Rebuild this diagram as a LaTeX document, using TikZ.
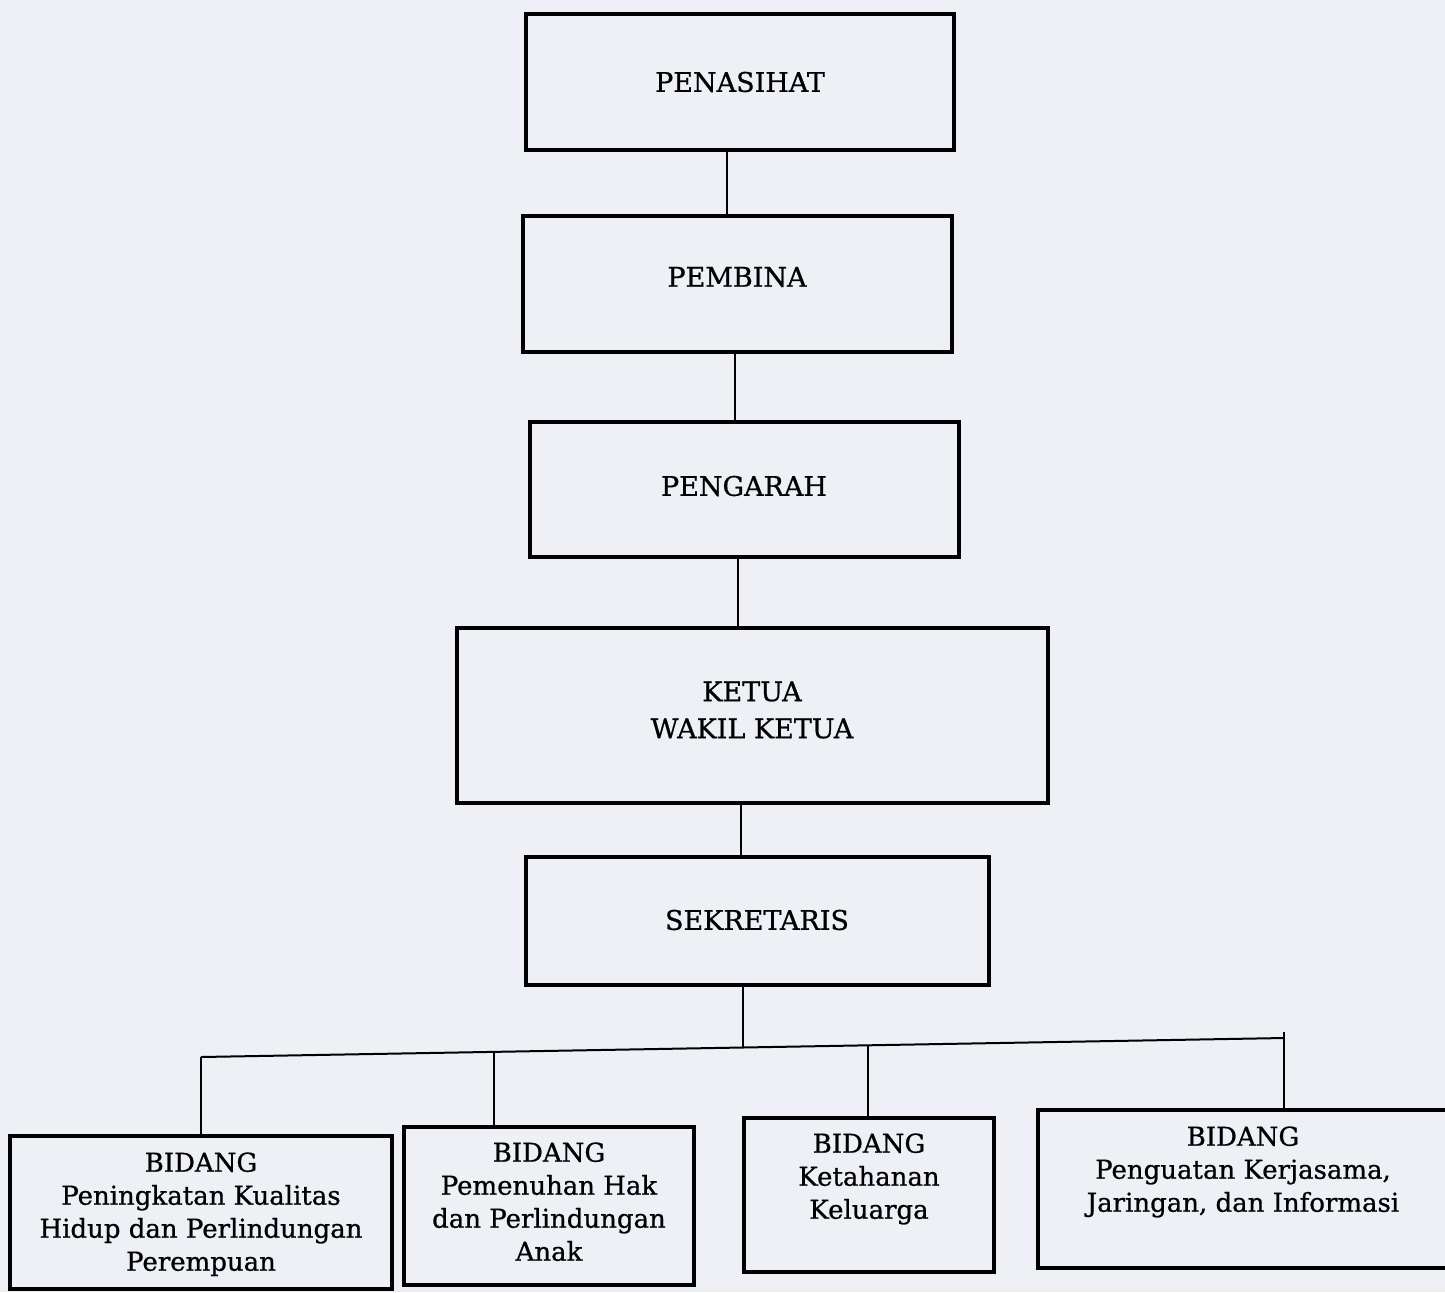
\documentclass[tikz,border=0pt]{standalone}
\usepackage{fontspec}
\setmainfont{DejaVu Serif}
\newfontfamily\boxfont{DejaVu Serif}[RawFeature={embolden=0.8}]
\definecolor{paper}{RGB}{238,240,246}
\begin{document}
\begin{tikzpicture}[x=0.5pt,y=-0.5pt,
  box/.style={draw=black,line width=2.3pt,inner sep=0pt,fill=none},
  txt/.style={inner sep=0pt,align=center,font=\boxfont\fontsize{13.5pt}{18.5pt}\selectfont},
  btxt/.style={inner sep=0pt,align=center,font=\boxfont\fontsize{13pt}{16.5pt}\selectfont},
  conn/.style={line width=1pt,black}]
\fill[paper] (0,0) rectangle (1445,1292);
\useasboundingbox (0,0) rectangle (1445,1292);
% boxes
\node[box,minimum width=214pt,minimum height=68pt] (pen) at (740,82) {};
\node[box,minimum width=214.5pt,minimum height=68pt] (pem) at (737.5,284) {};
\node[box,minimum width=214.5pt,minimum height=67.5pt] (peng) at (744.5,489.5) {};
\node[box,minimum width=295.5pt,minimum height=87.5pt] (ket) at (752.5,715.5) {};
\node[box,minimum width=231.5pt,minimum height=64pt] (sek) at (757.5,921) {};
\node[box,minimum width=191pt,minimum height=76.5pt] (b1) at (201,1212.5) {};
\node[box,minimum width=145pt,minimum height=79pt] (b2) at (549,1206) {};
\node[box,minimum width=125pt,minimum height=77pt] (b3) at (869,1195) {};
\node[box,minimum width=208.5pt,minimum height=79pt] (b4) at (1246.5,1189) {};
% texts
\node[txt] (tpen) at (740,82) {PENASIHAT};
\node[txt] (tpem) at (737,277) {PEMBINA};
\node[txt] (tpeng) at (744,486) {PENGARAH};
\node[txt] (tket) at (752,710) {KETUA\\WAKIL KETUA};
\node[txt] (tsek) at (757,920) {SEKRETARIS};
\node[btxt,anchor=north] (tb1) at (201,1152) {BIDANG\\Peningkatan Kualitas\\Hidup dan Perlindungan\\Perempuan};
\node[btxt,anchor=north] (tb2) at (549,1142) {BIDANG\\Pemenuhan Hak\\dan Perlindungan\\Anak};
\node[btxt,anchor=north] (tb3) at (869,1133) {BIDANG\\Ketahanan\\Keluarga};
\node[btxt,anchor=north] (tb4) at (1243,1126) {BIDANG\\Penguatan Kerjasama,\\Jaringan, dan Informasi};
% connectors
\draw[conn] (pen.south -| 727,0) -- (pem.north -| 727,0);
\draw[conn] (pem.south -| 735,0) -- (peng.north -| 735,0);
\draw[conn] (peng.south -| 738,0) -- (ket.north -| 738,0);
\draw[conn] (ket.south -| 741,0) -- (sek.north -| 741,0);
\coordinate (busL) at (201,1057);
\coordinate (busR) at (1284,1038);
\coordinate (busT) at (1284,1032);
\coordinate (j0) at (743,1047.5);
\coordinate (j2) at (494,1052);
\coordinate (j3) at (868,1045.5);
\draw[conn] (sek.south -| j0) -- (j0);
\draw[conn] (busL) -- (busR);
\draw[conn] (b1.north -| busL) -- (busL);
\draw[conn] (b2.north -| j2) -- (j2);
\draw[conn] (b3.north -| j3) -- (j3);
\draw[conn] (b4.north -| busT) -- (busT);
\end{tikzpicture}
\end{document}
